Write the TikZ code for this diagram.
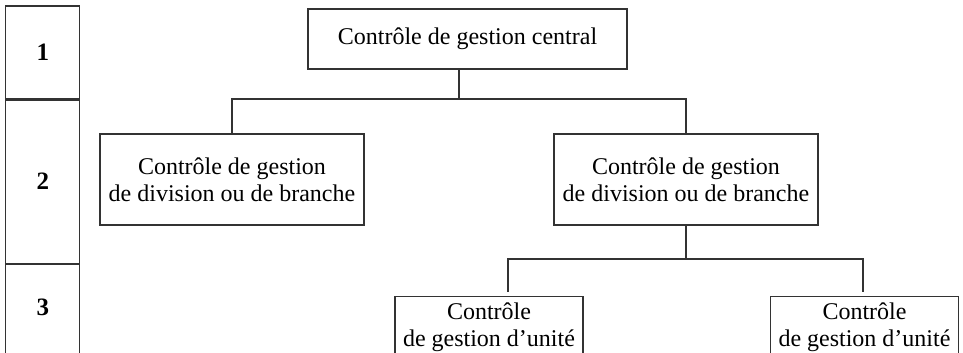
\documentclass[tikz,border=0pt]{standalone}
\usepackage{fontspec}
\setmainfont{Liberation Serif}
\usetikzlibrary{positioning}
\tikzset{
  box/.style={draw=black!80, line width=1.1pt, align=center, inner sep=0pt,
              font=\fontsize{24}{27}\selectfont},
  unitbox/.style={box, minimum width=188pt, inner ysep=6pt, anchor=north},
  lvlbox/.style={draw=black!80, line width=1.1pt, inner sep=0pt, minimum width=74pt,
                 font=\fontsize{25}{28}\selectfont\bfseries},
  link/.style={draw=black!80, line width=1.1pt}
}

\begin{document}
\begin{tikzpicture}[x=1pt,y=-1pt]
  \clip (0,0) rectangle (963,353);
  % levels column
  \node[lvlbox, minimum height=93pt] (lvl1) at (42.85,52.5) {1};
  \node[lvlbox, minimum height=163pt, anchor=north] (lvl2) at (lvl1.south) {2};
  \node[lvlbox, minimum height=110pt, anchor=north, text depth=24pt] (lvl3) at (lvl2.south) {3};
  % organisation
  \node[box, minimum width=319pt, minimum height=60pt] (central) at (467.5,39) {Contrôle de gestion central};
  \node[box, minimum width=264pt, minimum height=91pt] (div1) at (232,179.5) {Contrôle de gestion\\de division ou de branche};
  \node[box, minimum width=264pt, minimum height=91pt] (div2) at (686,179.5) {Contrôle de gestion\\de division ou de branche};
  \node[unitbox] (unit1) at (489,296) {Contrôle\\de gestion d’unité};
  \node[unitbox] (unit2) at (864.5,296) {Contrôle\\de gestion d’unité};
  \coordinate (bus1) at (459,99);
  \coordinate (bus2) at (686,259);
  \coordinate (foot1) at (508,292);
  \coordinate (foot2) at (863,292);
  \draw[link] (central.south -| bus1) -- (bus1);
  \draw[link] (div1.north) |- (bus1) -| (div2.north);
  \draw[link] (div2.south) -- (bus2);
  \draw[link] (foot1) |- (bus2) -| (foot2);
\end{tikzpicture}
\end{document}
